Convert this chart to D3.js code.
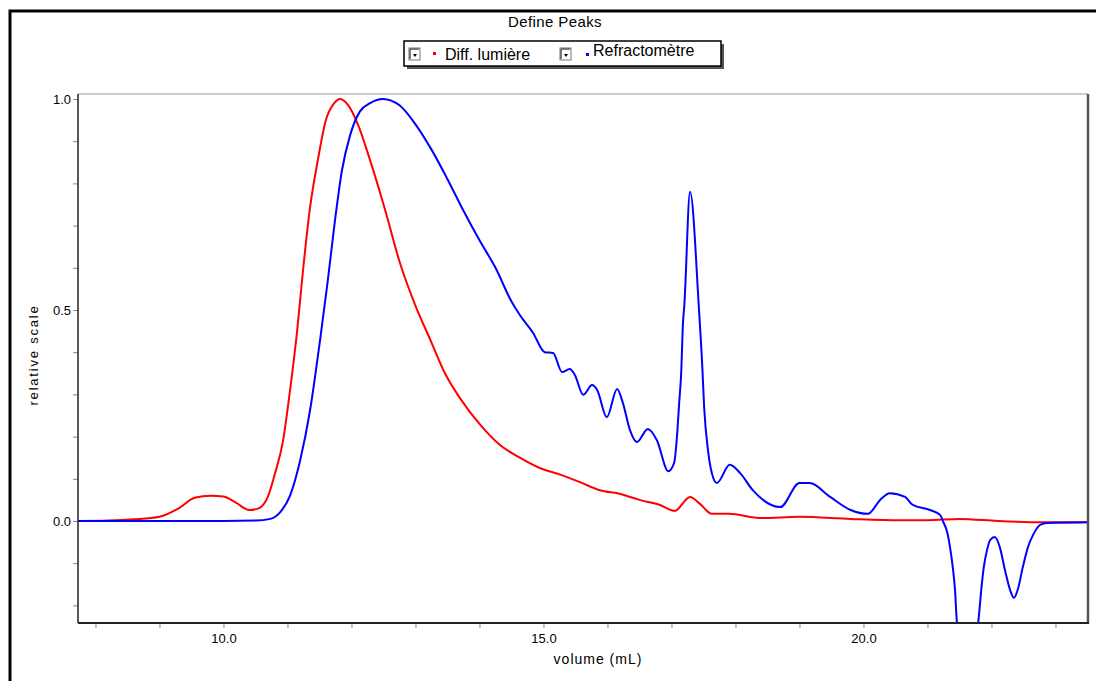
<!DOCTYPE html>
<html><head><meta charset="utf-8">
<script src="https://cdn.jsdelivr.net/npm/d3@7"></script>
<style>
body{margin:0;background:#fff;}
svg text{font-family:"Liberation Sans",Arial,sans-serif;fill:#000;}
</style></head>
<body><svg id="c" width="1096" height="681"></svg>
<script>
const title = "Define Peaks";
const xLabel = "volume (mL)";
const yLabel = "relative scale";
const seriesNames = ["Diff. lumière", "Refractomètre"];
const seriesColors = ["#ff0000", "#0000ff"];
const xTickValues = [8,9,10,11,12,13,14,15,16,17,18,19,20,21,22,23];
const xTickLabels = [10,15,20];
const yTickValues = [-0.2,-0.1,0,0.1,0.2,0.3,0.4,0.5,0.6,0.7,0.8,0.9,1.0];
const yTickLabels = [0,0.5,1.0];

const redVol = [7.73,8.2,8.6,9.0,9.3,9.55,9.8,10.0,10.2,10.4,10.55,10.7,10.8,10.93,11.04,11.15,11.24,11.35,11.48,11.6,11.73,11.82,11.95,12.1,12.29,12.52,12.76,13.0,13.23,13.46,13.7,14.0,14.32,14.63,14.95,15.26,15.57,15.88,16.2,16.5,16.82,17.05,17.29,17.45,17.63,17.9,18.4,19.0,19.8,20.57,21.0,21.5,22.1,22.8,23.51];
const redVal = [0,0.001,0.004,0.01,0.03,0.055,0.06,0.058,0.043,0.026,0.03,0.06,0.11,0.19,0.31,0.45,0.59,0.74,0.86,0.95,0.99,1.0,0.985,0.94,0.855,0.74,0.61,0.51,0.43,0.35,0.29,0.23,0.18,0.15,0.125,0.11,0.092,0.073,0.064,0.05,0.038,0.024,0.057,0.04,0.017,0.017,0.007,0.01,0.005,0.002,0.002,0.005,0.0,-0.003,-0.003];

const blueVol = [7.73,9.0,10.0,10.5,10.73,10.88,11.04,11.2,11.35,11.51,11.63,11.74,11.85,11.98,12.13,12.29,12.49,12.75,13.0,13.25,13.5,13.75,14.0,14.25,14.5,14.63,14.84,15.02,15.15,15.29,15.41,15.49,15.62,15.76,15.84,15.99,16.15,16.24,16.35,16.46,16.63,16.77,16.95,17.04,17.09,17.12,17.15,17.18,17.2,17.29,17.43,17.48,17.51,17.57,17.63,17.71,17.91,18.07,18.27,18.7,19.0,19.16,19.48,19.8,20.07,20.26,20.41,20.65,20.77,21.04,21.2,21.24,21.31,21.35,21.4,21.43,21.46,21.63,21.8,21.84,21.88,21.93,21.98,22.05,22.13,22.21,22.29,22.35,22.41,22.49,22.57,22.65,22.76,22.87,23.51];
const blueVal = [0,0,0,0.001,0.005,0.02,0.06,0.145,0.26,0.43,0.57,0.71,0.83,0.915,0.97,0.99,1.0,0.985,0.94,0.88,0.81,0.735,0.665,0.6,0.52,0.488,0.445,0.40,0.398,0.353,0.36,0.346,0.299,0.322,0.31,0.246,0.313,0.28,0.216,0.187,0.218,0.192,0.118,0.137,0.209,0.28,0.346,0.47,0.51,0.78,0.50,0.37,0.27,0.168,0.114,0.09,0.133,0.114,0.073,0.033,0.09,0.09,0.057,0.026,0.017,0.05,0.066,0.057,0.038,0.026,0.014,0.0,-0.028,-0.06,-0.116,-0.163,-0.24,-0.35,-0.23,-0.163,-0.109,-0.069,-0.045,-0.038,-0.062,-0.116,-0.163,-0.182,-0.163,-0.109,-0.062,-0.033,-0.009,-0.005,-0.003];

const svg = d3.select("#c");
const L = 78, R = 1088, T = 94, B = 623;
const x = d3.scaleLinear().domain([7.7266, 23.508]).range([L, R]);
const y = d3.scaleLinear().domain([-0.2417, 1.0118]).range([B, T]);

// outer frame
svg.append("path").attr("d","M10,681V11H1096").attr("fill","none").attr("stroke","#000").attr("stroke-width",3);

// title
svg.append("text").attr("x",555).attr("y",27).attr("text-anchor","middle").attr("font-size",15).attr("letter-spacing",0.4).text(title);

// legend
const lg = svg.append("g");
lg.append("rect").attr("x",407).attr("y",44).attr("width",317).attr("height",25).attr("fill","#555");
lg.append("rect").attr("x",404).attr("y",41).attr("width",317).attr("height",25).attr("fill","#fff").attr("stroke","#000").attr("stroke-width",1.5);
function checkbox(cx){
  const g = lg.append("g").attr("transform",`translate(${cx},48)`);
  g.append("rect").attr("x",0).attr("y",0).attr("width",11).attr("height",12).attr("fill","#fff").attr("stroke","#777");
  g.append("path").attr("d","M1,1V11M1,1H10").attr("stroke","#555").attr("stroke-width",1.5).attr("fill","none");
  g.append("path").attr("d","M4,6L6,9L8,6Z").attr("fill","#000");
}
checkbox(409); checkbox(560);
lg.append("rect").attr("x",433).attr("y",52).attr("width",3).attr("height",3).attr("fill",seriesColors[0]);
lg.append("text").attr("x",445).attr("y",60).attr("font-size",16).text(seriesNames[0]);
lg.append("rect").attr("x",586).attr("y",53).attr("width",3).attr("height",3).attr("fill",seriesColors[1]);
lg.append("text").attr("x",593).attr("y",56).attr("font-size",16).text(seriesNames[1]);

// axes
const xAxis = d3.axisBottom(x).tickValues(xTickValues).tickSize(5).tickPadding(6)
  .tickFormat(d => xTickLabels.includes(d) ? d3.format(".1f")(d) : "");
const gx = svg.append("g").attr("transform",`translate(0,${B})`).call(xAxis);
gx.select(".domain").remove();
gx.selectAll(".tick line").attr("stroke","#888");
gx.selectAll(".tick text").attr("font-size",13).attr("font-family","Liberation Sans, Arial, sans-serif").attr("fill","#000");

const yAxis = d3.axisLeft(y).tickValues(yTickValues).tickSize(5).tickPadding(2)
  .tickFormat(d => yTickLabels.some(v => Math.abs(v-d)<1e-9) ? d3.format(".1f")(d) : "");
const gy = svg.append("g").attr("transform",`translate(${L},0)`).call(yAxis);
gy.select(".domain").remove();
gy.selectAll(".tick line").attr("stroke","#888");
gy.selectAll(".tick text").attr("font-size",13).attr("font-family","Liberation Sans, Arial, sans-serif").attr("fill","#000");

svg.append("text").attr("x",598).attr("y",664).attr("text-anchor","middle").attr("font-size",14).attr("letter-spacing",1).text(xLabel);
svg.append("text").attr("transform","translate(38,355) rotate(-90)").attr("text-anchor","middle").attr("font-size",13).attr("letter-spacing",1.8).text(yLabel);

// clip
svg.append("clipPath").attr("id","clip").append("rect").attr("x",L).attr("y",T).attr("width",R-L).attr("height",B-T);

const line = d3.line().x(d=>x(d[0])).y(d=>y(d[1])).curve(d3.curveMonotoneX);
const plot = svg.append("g").attr("clip-path","url(#clip)");
plot.append("path").datum(d3.zip(redVol, redVal)).attr("d",line).attr("fill","none").attr("stroke",seriesColors[0]).attr("stroke-width",2);
plot.append("path").datum(d3.zip(blueVol, blueVal)).attr("d",line).attr("fill","none").attr("stroke",seriesColors[1]).attr("stroke-width",2);

// plot frame
svg.append("path").attr("d",`M${L},${T}H${R}`).attr("stroke","#999").attr("stroke-width",1).attr("fill","none");
svg.append("path").attr("d",`M${R},${T}V${B}`).attr("stroke","#555").attr("stroke-width",2.5).attr("fill","none");
svg.append("path").attr("d",`M${L},${T}V${B}`).attr("stroke","#222").attr("stroke-width",1.5).attr("fill","none");
svg.append("path").attr("d",`M${L},${B}H${R+1}`).attr("stroke","#222").attr("stroke-width",2).attr("fill","none");
</script></body></html>
